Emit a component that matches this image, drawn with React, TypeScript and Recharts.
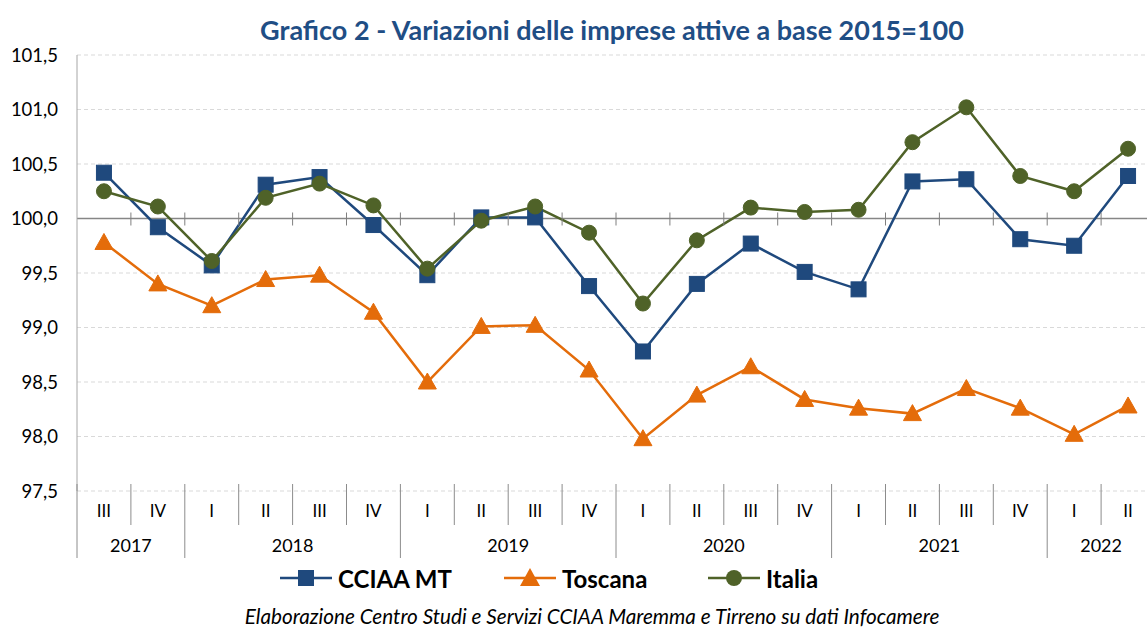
import React from 'react';
import { LineChart, Line, XAxis, YAxis, CartesianGrid, ReferenceLine } from 'recharts';

// ---- data ----
const quarters = ['III', 'IV', 'I', 'II', 'III', 'IV', 'I', 'II', 'III', 'IV', 'I', 'II', 'III', 'IV', 'I', 'II', 'III', 'IV', 'I', 'II'];
const years = ['2017', '2018', '2019', '2020', '2021', '2022'];
const quartersPerYear = [2, 4, 4, 4, 4, 2];
const cciaaMT = [100.42, 99.92, 99.57, 100.31, 100.38, 99.94, 99.48, 100.01, 100.01, 99.38, 98.78, 99.40, 99.77, 99.51, 99.35, 100.34, 100.36, 99.81, 99.75, 100.39];
const toscana = [99.78, 99.40, 99.20, 99.44, 99.48, 99.14, 98.50, 99.01, 99.02, 98.61, 97.98, 98.38, 98.64, 98.34, 98.26, 98.21, 98.44, 98.26, 98.02, 98.28];
const italia = [100.25, 100.11, 99.61, 100.19, 100.32, 100.12, 99.54, 99.98, 100.11, 99.87, 99.22, 99.80, 100.10, 100.06, 100.08, 100.70, 101.02, 100.39, 100.25, 100.64];
const yTicks = [97.5, 98.0, 98.5, 99.0, 99.5, 100.0, 100.5, 101.0, 101.5];
const seriesNames = ['CCIAA MT', 'Toscana', 'Italia'];
const titleText = 'Grafico 2 - Variazioni delle imprese attive a base 2015=100';
const footerText = 'Elaborazione Centro Studi e Servizi CCIAA Maremma e Tirreno su dati Infocamere';

// ---- layout / style ----
const W = 1160;
const H = 630;
const PLOT_L = 77;
const PLOT_R = 1155;
const PLOT_T = 55;
const PLOT_B = 491;
const Y_MIN = 97.5;
const Y_MAX = 101.5;
const STEP = (PLOT_R - PLOT_L) / quarters.length;
const Y100 = PLOT_T + ((Y_MAX - 100) / (Y_MAX - Y_MIN)) * (PLOT_B - PLOT_T);
const FONT = 'Lato, "Open Sans", sans-serif';
const BLUE = '#1F497D';
const ORANGE = '#E46C0A';
const GREEN = '#4F6228';
const SEP = '#8c8c8c';
const TITLE_BLUE = '#1F4E85';

const rows = quarters.map((q, i) => ({
  x: i + 0.5,
  mt: cciaaMT[i],
  tos: toscana[i],
  ita: italia[i],
}));

const yearStarts: number[] = [];
const yearCenters: number[] = [];
{
  let acc = 0;
  quartersPerYear.forEach((n) => {
    yearStarts.push(acc);
    yearCenters.push(acc + n / 2);
    acc += n;
  });
}
const quarterTicks = quarters.map((_, i) => i + 0.5);

const QuarterTick = (props: any) => {
  const { x, payload } = props;
  const i = Math.floor(payload.value);
  const left = x - STEP / 2;
  const isYearStart = yearStarts.includes(i);
  const isLast = i === quarters.length - 1;
  return (
    <g>
      <line x1={left} x2={left} y1={PLOT_B - 7} y2={isYearStart ? 558 : 525} stroke={SEP} strokeWidth={1} />
      {isLast && <line x1={left + STEP} x2={left + STEP} y1={PLOT_B - 7} y2={558} stroke={SEP} strokeWidth={1} />}
      {i > 0 && <line x1={left} x2={left} y1={Y100 - 6} y2={Y100 + 7} stroke="#7f7f7f" strokeWidth={1} />}
      {isLast && <line x1={left + STEP} x2={left + STEP} y1={Y100 - 6} y2={Y100 + 7} stroke="#7f7f7f" strokeWidth={1} />}
      <text x={x} y={510} textAnchor="middle" dominantBaseline="central" fontFamily={FONT} fontSize={17} fill="#000">
        {quarters[i]}
      </text>
    </g>
  );
};

const YearTick = (props: any) => {
  const { x, payload } = props;
  const idx = yearCenters.indexOf(payload.value);
  return (
    <text x={x} y={545} textAnchor="middle" dominantBaseline="central" fontFamily={FONT} fontSize={18} fill="#000">
      {years[idx]}
    </text>
  );
};

const squareDot = (p: any) => (
  <rect key={`sq-${p.index}`} x={p.cx - 7.5} y={p.cy - 7.5} width={15} height={15} fill={BLUE} stroke={BLUE} strokeWidth={1} />
);
const triangleDot = (p: any) => (
  <polygon
    key={`tr-${p.index}`}
    points={`${p.cx},${p.cy - 9} ${p.cx - 9},${p.cy + 7} ${p.cx + 9},${p.cy + 7}`}
    fill={ORANGE}
    stroke={ORANGE}
    strokeWidth={1}
  />
);
const circleDot = (p: any) => <circle key={`ci-${p.index}`} cx={p.cx} cy={p.cy} r={7.5} fill={GREEN} stroke={GREEN} strokeWidth={1} />;

const legendItems = [
  { name: seriesNames[0], color: BLUE, x: 280, shape: 'square' },
  { name: seriesNames[1], color: ORANGE, x: 504, shape: 'triangle' },
  { name: seriesNames[2], color: GREEN, x: 708, shape: 'circle' },
];

export default function App() {
  return (
    <div style={{ position: 'fixed', left: 0, top: 0, width: 1147, height: 630, overflow: 'hidden', background: '#fff' }}>
      <LineChart width={W} height={H} data={rows} margin={{ top: PLOT_T, right: W - PLOT_R, left: 0, bottom: 72 }}>
        <CartesianGrid horizontal vertical={false} stroke="#d9d9d9" strokeDasharray="4 3" />
        <XAxis
          dataKey="x"
          type="number"
          domain={[0, quarters.length]}
          ticks={quarterTicks}
          axisLine={false}
          tickLine={false}
          height={34}
          interval={0}
          tick={<QuarterTick />}
        />
        <XAxis
          xAxisId="year"
          dataKey="x"
          type="number"
          domain={[0, quarters.length]}
          ticks={yearCenters}
          axisLine={false}
          tickLine={false}
          height={33}
          interval={0}
          tick={<YearTick />}
        />
        <YAxis
          type="number"
          domain={[Y_MIN, Y_MAX]}
          ticks={yTicks}
          width={PLOT_L}
          axisLine={{ stroke: '#a6a6a6', strokeWidth: 1 }}
          tickLine={false}
          tickSize={0}
          tickMargin={19}
          interval={0}
          tickFormatter={(v: number) => v.toFixed(1).replace('.', ',')}
          tick={{ fontFamily: FONT, fontSize: 18.5, fill: '#000' }}
        />
        <ReferenceLine y={100} stroke="#868686" strokeWidth={1.5} />
        <Line dataKey="mt" name={seriesNames[0]} stroke={BLUE} strokeWidth={2.5} dot={squareDot} isAnimationActive={false} />
        <Line dataKey="tos" name={seriesNames[1]} stroke={ORANGE} strokeWidth={2.5} dot={triangleDot} isAnimationActive={false} />
        <Line dataKey="ita" name={seriesNames[2]} stroke={GREEN} strokeWidth={2.5} dot={circleDot} isAnimationActive={false} />
      </LineChart>
      <svg width={1147} height={630} style={{ position: 'absolute', left: 0, top: 0, pointerEvents: 'none' }}>
        <text x={612} y={29} textAnchor="middle" dominantBaseline="central" fontFamily={FONT} fontWeight={700} fontSize={27} fill={TITLE_BLUE}>
          {titleText}
        </text>
        {legendItems.map((it) => (
          <g key={it.name}>
            <line x1={it.x} x2={it.x + 52} y1={578} y2={578} stroke={it.color} strokeWidth={2.5} />
            {it.shape === 'square' && <rect x={it.x + 26 - 8} y={578 - 8} width={16} height={16} fill={it.color} />}
            {it.shape === 'triangle' && (
              <polygon points={`${it.x + 26},${578 - 10} ${it.x + 16},${578 + 8} ${it.x + 36},${578 + 8}`} fill={it.color} />
            )}
            {it.shape === 'circle' && <circle cx={it.x + 26} cy={578} r={8} fill={it.color} />}
            <text x={it.x + 58} y={578} dominantBaseline="central" fontFamily={FONT} fontWeight={700} fontSize={24} fill="#000">
              {it.name}
            </text>
          </g>
        ))}
        <text x={592} y={624} textAnchor="middle" fontFamily={FONT} fontStyle="italic" fontSize={20.7} fill="#000">
          {footerText}
        </text>
      </svg>
    </div>
  );
}
